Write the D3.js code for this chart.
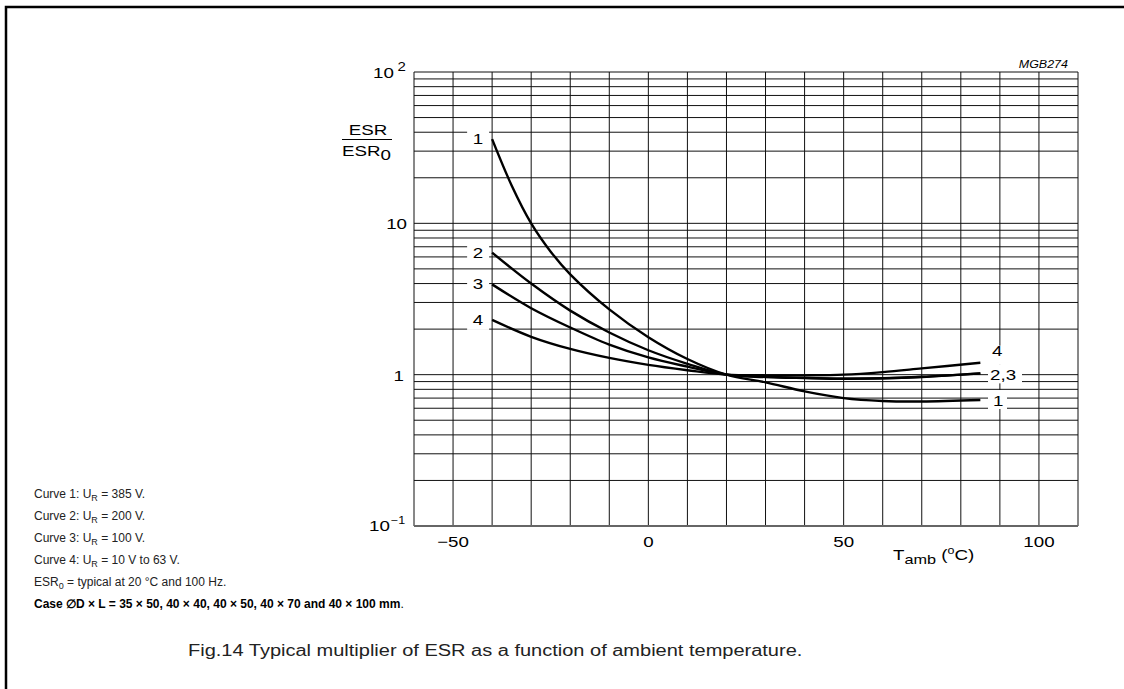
<!doctype html>
<html>
<head>
<meta charset="utf-8">
<script src="https://d3js.org/d3.v7.min.js"></script>
<style>
  body { margin: 0; background: #fff; }
  svg { display: block; font-family: "Liberation Sans", Arial, sans-serif; }
</style>
</head>
<body>
<div id="chart"></div>
<script>
// curve data (temperature in degC, ESR/ESR0)
const temps1 = [-40, -35, -30, -25, -20, -10, 0, 10, 20, 30, 40, 50, 60, 70, 85];
const curve1 = [36, 17.8, 10, 6.5, 4.6, 2.7, 1.77, 1.27, 1.0, 0.89, 0.775, 0.70, 0.67, 0.665, 0.68];

const temps = [-40, -30, -20, -10, 0, 10, 20, 30, 40, 50, 60, 70, 85];
const curve2 = [6.4, 4.0, 2.65, 1.9, 1.45, 1.18, 1.0, 0.965, 0.95, 0.94, 0.945, 0.965, 1.02];
const curve3 = [3.95, 2.75, 2.05, 1.58, 1.3, 1.13, 1.0, 0.97, 0.952, 0.942, 0.947, 0.968, 1.02];
const curve4 = [2.3, 1.78, 1.48, 1.29, 1.16, 1.07, 1.0, 0.99, 0.99, 1.0, 1.04, 1.1, 1.2];

const xTicks = [-50, 0, 50, 100];
const leftLabels = ["1", "2", "3", "4"];
const rightLabels = ["4", "2,3", "1"];

const notes = [
  ["Curve 1: U", "R", " = 385 V."],
  ["Curve 2: U", "R", " = 200 V."],
  ["Curve 3: U", "R", " = 100 V."],
  ["Curve 4: U", "R", " = 10 V to 63 V."],
  ["ESR", "0", " = typical at 20 \u00b0C and 100 Hz."]
];

const W = 1124, H = 689;
const SX = 1.25; // the figure's lettering is wide
const svg = d3.select("#chart").append("svg").attr("width", W).attr("height", H);

// text helper, horizontally stretched
function stext(x0, y0, anchor, size) {
  return svg.append("text")
    .attr("transform", `translate(${x0},${y0}) scale(${SX},1)`)
    .attr("text-anchor", anchor || "start")
    .attr("font-size", size || 15);
}

// frame: left and top edges only
svg.append("path").attr("d", "M6,689V7H1124")
  .attr("fill", "none").attr("stroke", "#000").attr("stroke-width", 2.5);

const x = d3.scaleLinear().domain([-60, 110]).range([414, 1078]);
const y = d3.scaleLog().domain([0.1, 100]).range([526, 72]);

// grid
const g = svg.append("g");
g.selectAll("line.v").data(d3.range(-60, 111, 10)).enter().append("line")
  .attr("x1", d => x(d)).attr("x2", d => x(d))
  .attr("y1", y(100)).attr("y2", y(0.1))
  .attr("stroke", "#111").attr("stroke-width", 1);
g.selectAll("line.h").data(y.ticks()).enter().append("line")
  .attr("x1", x(-60)).attr("x2", x(110))
  .attr("y1", d => y(d)).attr("y2", d => y(d))
  .attr("stroke", "#111").attr("stroke-width", 1);
g.append("line").attr("x1", x(-60)).attr("x2", x(110)).attr("y1", y(0.1)).attr("y2", y(0.1))
  .attr("stroke", "#666").attr("stroke-width", 2);

// label backgrounds (cut the grid)
const leftY = [curve1[0], curve2[0], curve3[0], curve4[0]];
svg.selectAll("rect.lb").data(leftLabels).enter().append("rect")
  .attr("x", x(-40) - 25).attr("width", 22)
  .attr("y", (d, i) => y(leftY[i]) - 10).attr("height", 20)
  .attr("fill", "#fff");
const rightY = [curve4[curve4.length - 1], curve2[curve2.length - 1], curve1[curve1.length - 1]];
const rightBox = [[990, 14], [988, 34], [988, 19]];
svg.selectAll("rect.rb").data(rightLabels).enter().append("rect")
  .attr("x", (d, i) => rightBox[i][0]).attr("width", (d, i) => rightBox[i][1])
  .attr("y", (d, i) => y(rightY[i]) + [-17, -9, -10][i]).attr("height", 19)
  .attr("fill", "#fff");

// curves
const line = d3.line().x(d => x(d[0])).y(d => y(d[1])).curve(d3.curveCatmullRom.alpha(0.5));
const series = [
  d3.zip(temps1, curve1),
  d3.zip(temps, curve2),
  d3.zip(temps, curve3),
  d3.zip(temps, curve4)
];
svg.selectAll("path.c").data(series).enter().append("path")
  .attr("d", line).attr("fill", "none").attr("stroke", "#000").attr("stroke-width", 2.4);

// curve labels
leftLabels.forEach((d, i) => stext(x(-40) - 9, y(leftY[i]) + 5, "end").text(d));
rightLabels.forEach((d, i) => stext([992, 990, 993][i], y(rightY[i]) + [-7, 7, 6][i]).text(d));

// y axis labels
const t100 = stext(373, y(100) + 6);
t100.append("tspan").text("10");
t100.append("tspan").attr("dx", 3).attr("dy", -7).attr("font-size", 12).text("2");
stext(407, y(10) + 6, "end").text("10");
stext(404, y(1) + 6, "end").text("1");
const t01 = stext(369, y(0.1) + 5);
t01.append("tspan").text("10");
t01.append("tspan").attr("dx", 1).attr("dy", -7).attr("font-size", 10).text("\u22121");

// y title ESR / ESR0
stext(368, 135, "middle").text("ESR");
svg.append("line").attr("x1", 342).attr("x2", 392).attr("y1", 139.5).attr("y2", 139.5)
  .attr("stroke", "#000").attr("stroke-width", 1.2);
const e0 = stext(342, 156);
e0.append("tspan").text("ESR");
e0.append("tspan").attr("dy", 4).text("0");

// x tick labels
xTicks.forEach(d => stext(x(d), 547, "middle").text(d < 0 ? "\u2212" + Math.abs(d) : d));

// x title
const xt = stext(893, 560, "start", 15);
xt.append("tspan").text("T");
xt.append("tspan").attr("dy", 4).attr("font-size", 13).text("amb");
xt.append("tspan").attr("dy", -4).text(" (");
xt.append("tspan").attr("dy", -6).attr("font-size", 10).text("o");
xt.append("tspan").attr("dy", 6).text("C)");

// drawing code
stext(1068, 68, "end", 10).attr("font-style", "italic").text("MGB274");

// notes
const nt = svg.append("g").attr("font-size", 12).attr("fill", "#222");
notes.forEach((n, i) => {
  const t = nt.append("text").attr("x", 34).attr("y", 498 + i * 22);
  t.append("tspan").text(n[0]);
  t.append("tspan").attr("dy", 3).attr("font-size", 9).text(n[1]);
  t.append("tspan").attr("dy", -3).text(n[2]);
});
const cs = nt.append("text").attr("x", 34).attr("y", 498 + 5 * 22).attr("fill", "#000");
cs.append("tspan").attr("font-weight", "bold")
  .text("Case \u2205D \u00d7 L = 35 \u00d7 50, 40 \u00d7 40, 40 \u00d7 50, 40 \u00d7 70 and 40 \u00d7 100 mm");
cs.append("tspan").text(".");

// caption
svg.append("text").attr("transform", "translate(188,656) scale(1.25,1)")
  .attr("font-size", 16).attr("fill", "#222")
  .text("Fig.14  Typical multiplier of ESR as a function of ambient temperature.");
</script>
</body>
</html>
